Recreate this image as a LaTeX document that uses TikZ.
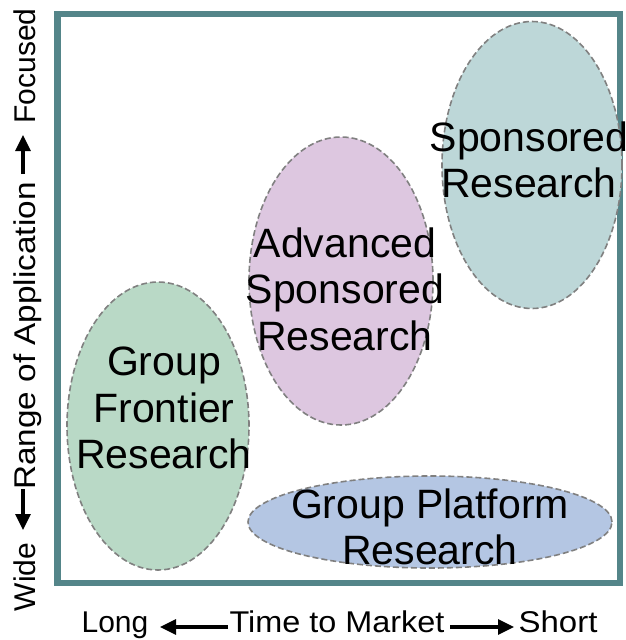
\documentclass[tikz,border=0pt]{standalone}
\usepackage{fontspec}
\setmainfont{Liberation Sans}
\usetikzlibrary{shapes.geometric,arrows.meta}
\definecolor{framec}{RGB}{84,133,137}
\definecolor{sponc}{RGB}{189,215,216}
\definecolor{advc}{RGB}{221,199,224}
\definecolor{frontc}{RGB}{185,217,198}
\definecolor{platc}{RGB}{180,198,227}
\definecolor{dashc}{RGB}{128,128,128}
\tikzset{
  blob/.style={ellipse, draw=dashc, line width=1.6pt, dash pattern=on 6pt off 3pt, inner sep=0pt},
  blobtext/.style={align=center, font=\fontsize{41}{46.5}\selectfont, inner sep=0pt},
  axistext/.style={font=\fontsize{30}{34}\selectfont, inner sep=0pt, anchor=base},
  axisarrow/.style={line width=3.2pt, -{Triangle[length=16pt,width=15pt]}}
}
\begin{document}
\begin{tikzpicture}[x=1pt,y=-1pt]
\useasboundingbox (0,0) rectangle (625,640);
\draw[framec, line width=6.5pt] (57.5,14) rectangle (620,583);
% ellipses
\node[blob, fill=sponc, minimum width=180pt, minimum height=287pt] (spon) at (532,165) {};
\node[blob, fill=advc, minimum width=184pt, minimum height=288pt] (adv) at (341,281) {};
\node[blob, fill=frontc, minimum width=182pt, minimum height=288pt] (front) at (158,426) {};
\node[blob, fill=platc, minimum width=364pt, minimum height=92pt] (plat) at (430,522) {};
% labels
\node[blobtext] (spont) at (529,160) {Sponsored\\Research};
\node[blobtext] (advt) at (345,289) {Advanced\\Sponsored\\Research};
\node[blobtext] (frontt) at (164,408) {Group\\Frontier\\Research};
\node[blobtext] (platt) at (430,527) {Group Platform\\Research};
% horizontal axis
\node[axistext] (long) at (115,632) {Long};
\node[axistext] (ttm) at (337,632) {\scalebox{1.08}[1]{Time to Market}};
\node[axistext] (short) at (558,632) {\scalebox{1.1}[1]{Short}};
\coordinate (la) at (228,627);
\coordinate (lb) at (160,627);
\coordinate (ra) at (450,627);
\coordinate (rb) at (514,627);
\draw[axisarrow] (la) -- (lb);
\draw[axisarrow] (ra) -- (rb);
% vertical axis
\node[axistext, rotate=90] (focused) at (35,66) {Focused};
\node[axistext, rotate=90] (range) at (35,336) {\scalebox{1.11}[1]{Range of Application}};
\node[axistext, rotate=90] (wide) at (35,577) {Wide};
\coordinate (ua) at (23,174);
\coordinate (ub) at (23,135);
\coordinate (da) at (23,489);
\coordinate (db) at (23,530);
\draw[axisarrow] (ua) -- (ub);
\draw[axisarrow] (da) -- (db);
\end{tikzpicture}
\end{document}
